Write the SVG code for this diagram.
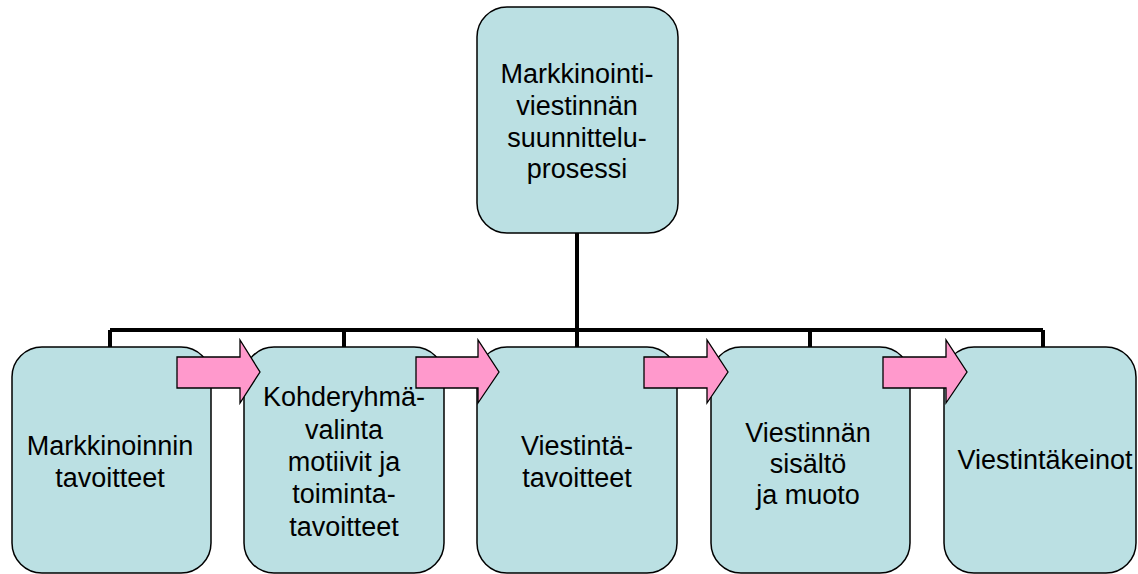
<svg xmlns="http://www.w3.org/2000/svg" width="1138" height="574" viewBox="0 0 1138 574">
<style>
.box{fill:#bbe0e3;stroke:#000;stroke-width:1.5}
.arr{fill:#ff99cc;stroke:#000;stroke-width:1.3;stroke-linejoin:miter}
.con{fill:none;stroke:#000;stroke-width:4}
text{font-family:"Liberation Sans",Arial,sans-serif;font-size:27px;fill:#000;text-anchor:middle}
</style>
<rect width="1138" height="574" fill="#fff"/>
<g id="connectors">
<path class="con" d="M577 233V330M110 330H1043M110 330V347M344 330V347M577 330V347M810 330V347M1043 330V347"/>
</g>
<g id="n0">
<rect class="box" x="477" y="7" width="201" height="226" rx="30"/>
<text x="577" y="83">Markkinointi-</text>
<text x="577" y="115">viestinnän</text>
<text x="577" y="147">suunnittelu-</text>
<text x="577" y="178">prosessi</text>
</g>
<g id="n1">
<rect class="box" x="12" y="347" width="199" height="226" rx="30"/>
<text x="110" y="455">Markkinoinnin</text>
<text x="110" y="487">tavoitteet</text>
</g>
<g id="n2">
<rect class="box" x="244" y="347" width="200" height="226" rx="30"/>
<text x="344" y="406">Kohderyhmä-</text>
<text x="344" y="439">valinta</text>
<text x="344" y="471">motiivit ja</text>
<text x="344" y="503">toiminta-</text>
<text x="344" y="536">tavoitteet</text>
</g>
<g id="n3">
<rect class="box" x="477" y="347" width="200" height="226" rx="30"/>
<text x="577" y="455">Viestintä-</text>
<text x="577" y="487">tavoitteet</text>
</g>
<g id="n4">
<rect class="box" x="711" y="347" width="199" height="226" rx="30"/>
<text x="808" y="442">Viestinnän</text>
<text x="808" y="473">sisältö</text>
<text x="808" y="504">ja muoto</text>
</g>
<g id="n5">
<rect class="box" x="944" y="347" width="192" height="226" rx="30"/>
<text x="1045" y="469">Viestintäkeinot</text>
</g>
<g id="arrows">
<path class="arr" d="M177 357H240V340L260 372L240 403V388H177Z"/>
<path class="arr" d="M416 357H478V340L499 372L478 403V388H416Z"/>
<path class="arr" d="M644 357H707V340L728 372L707 403V388H644Z"/>
<path class="arr" d="M883 357H946V340L967 372L946 403V388H883Z"/>
</g>
</svg>
